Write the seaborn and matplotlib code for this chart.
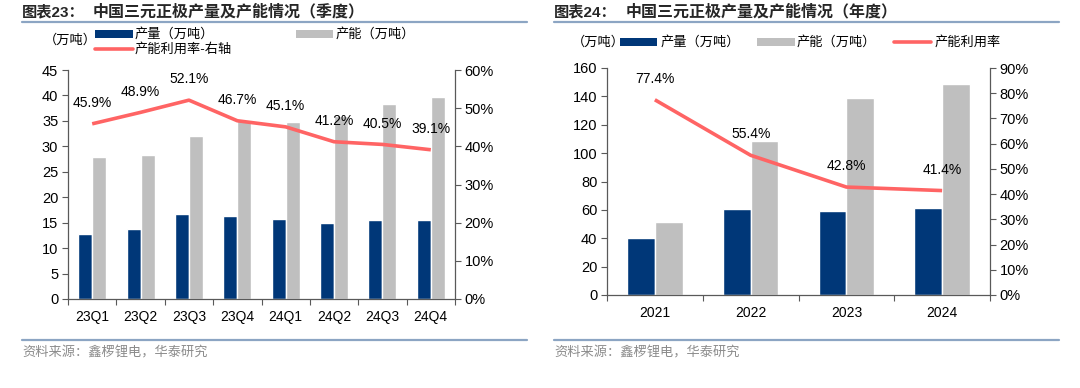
import numpy as np
import pandas as pd
import matplotlib
matplotlib.use("Agg")
import matplotlib.pyplot as plt
import seaborn as sns
from matplotlib.patches import Rectangle
from matplotlib.lines import Line2D
from matplotlib.ticker import FuncFormatter

# quarterly data (万吨, %)
quarters = ["23Q1", "23Q2", "23Q3", "23Q4", "24Q1", "24Q2", "24Q3", "24Q4"]
q_output = [12.8, 13.8, 16.7, 16.3, 15.7, 14.9, 15.5, 15.5]
q_capacity = [27.9, 28.3, 32.0, 35.1, 34.8, 36.0, 38.3, 39.6]
q_util = [45.9, 48.9, 52.1, 46.7, 45.1, 41.2, 40.5, 39.1]

# yearly data
years = ["2021", "2022", "2023", "2024"]
y_output = [40.2, 60.4, 59.2, 61.3]
y_capacity = [51.5, 108.5, 138.8, 148.6]
y_util = [77.4, 55.4, 42.8, 41.4]

NAVY = "#003778"
GRAY = "#BFBFBF"
RED = "#FF6464"
SPINE = "#595959"

sns.set_theme(style="white")
plt.rcParams["font.family"] = ["Liberation Sans", "Noto Sans CJK SC", "DejaVu Sans"]

W, H = 1080, 388
fig = plt.figure(figsize=(W / 100, H / 100), dpi=100)


def fx(px):
    return px / W


def fy(py):
    return 1 - py / H


def make_df(periods, output, capacity):
    return pd.DataFrame({
        "period": list(periods) * 2,
        "value": list(output) + list(capacity),
        "series": ["产量"] * len(periods) + ["产能"] * len(periods),
    })


def draw_panel(rect, periods, output, capacity, util, ymax, ystep, rmax):
    ax = fig.add_axes(rect)
    df = make_df(periods, output, capacity)
    sns.barplot(data=df, x="period", y="value", hue="series",
                palette=[NAVY, GRAY], saturation=1, width=0.58,
                legend=False, ax=ax)
    n = len(periods)
    ax.set_xlim(-0.5, n - 0.5)
    ax.set_ylim(0, ymax)
    ax.set_yticks(np.arange(0, ymax + 0.1, ystep))
    ax.set_xlabel("")
    ax.set_ylabel("")
    ax.set_xticks(np.arange(-0.5, n, 1), minor=True)
    ax.tick_params(axis="x", which="major", length=0, labelsize=10, pad=8, colors="black")
    ax.tick_params(axis="x", which="minor", length=4, width=0.8, color=SPINE, direction="out", bottom=True)
    ax.tick_params(axis="y", length=4, width=0.8, color=SPINE, direction="out", left=True,
                   labelsize=10.5, labelcolor="black", pad=3)
    for s in ["top", "right"]:
        ax.spines[s].set_visible(False)
    for s in ["left", "bottom"]:
        ax.spines[s].set_color(SPINE)
        ax.spines[s].set_linewidth(0.9)

    ax2 = ax.twinx()
    x = np.arange(n)
    ax2.plot(x, util, color=RED, lw=2.6, solid_capstyle="butt")
    ax2.set_ylim(0, rmax)
    ax2.set_yticks(np.arange(0, rmax + 0.1, 10))
    ax2.yaxis.set_major_formatter(FuncFormatter(lambda v, p: f"{v:.0f}%"))
    ax2.tick_params(axis="y", length=4, width=0.8, color=SPINE, direction="out", right=True,
                    labelsize=10.5, labelcolor="black", pad=3)
    for s in ["top", "left", "bottom"]:
        ax2.spines[s].set_visible(False)
    ax2.spines["right"].set_color(SPINE)
    ax2.spines["right"].set_linewidth(0.9)
    ax2.grid(False)
    ax.grid(False)
    for xi, v in zip(x, util):
        ax2.annotate(f"{v:.1f}%", (xi, v), xytext=(0, 15), textcoords="offset points",
                     ha="center", va="center", fontsize=10, color="black")
    return ax, ax2


left_rect = [fx(68), fy(299), fx(455) - fx(68), fy(70) - fy(299)]
right_rect = [fx(607), fy(295), fx(990) - fx(607), fy(68) - fy(295)]
draw_panel(left_rect, quarters, q_output, q_capacity, q_util, 45, 5, 60)
draw_panel(right_rect, years, y_output, y_capacity, y_util, 160, 20, 90)

# titles and rules
LINE = "#8CA5C3"
for x0, x1, num, text, tx in [(22, 527, "图表23：", "中国三元正极产量及产能情况（季度）", 93),
                              (554, 1059, "图表24：", "中国三元正极产量及产能情况（年度）", 626)]:
    fig.text(fx(x0), fy(12), num, fontsize=11, fontweight="bold", va="center", ha="left")
    fig.text(fx(tx), fy(12), text, fontsize=11.5, fontweight="bold", va="center", ha="left")
    fig.add_artist(Line2D([fx(x0), fx(x1)], [fy(22), fy(22)], color=LINE, lw=1.6))
    fig.add_artist(Line2D([fx(x0), fx(x1)], [fy(340), fy(340)], color=LINE, lw=1.6))
    fig.text(fx(x0), fy(353), "资料来源：鑫椤锂电，华泰研究", fontsize=9.5, color="#8C8C8C",
             va="center", ha="left")


def legend_patch(x0, x1, yc, color, h=7):
    fig.add_artist(Rectangle((fx(x0), fy(yc + h / 2)), fx(x1) - fx(x0), h / H,
                             transform=fig.transFigure, color=color, lw=0))


def legend_line(x0, x1, yc):
    fig.add_artist(Line2D([fx(x0), fx(x1)], [fy(yc), fy(yc)], color=RED, lw=2.6))


def legend_text(x, yc, s):
    fig.text(fx(x), fy(yc), s, fontsize=9.5, va="center", ha="left", color="black")


# left legend
legend_text(44, 40, "（万吨）")
legend_patch(95, 133, 34, NAVY)
legend_text(135, 34, "产量（万吨）")
legend_patch(296, 333, 34, GRAY)
legend_text(336, 34, "产能（万吨）")
legend_line(95, 133, 49)
legend_text(135, 49, "产能利用率-右轴")

# right legend
legend_text(572, 42, "（万吨）")
legend_patch(620, 657, 42, NAVY)
legend_text(661, 42, "产量（万吨）")
legend_patch(757, 795, 42, GRAY)
legend_text(797, 42, "产能（万吨）")
legend_line(894, 931, 42)
legend_text(935, 42, "产能利用率")

fig.savefig("out.png", dpi=100)
